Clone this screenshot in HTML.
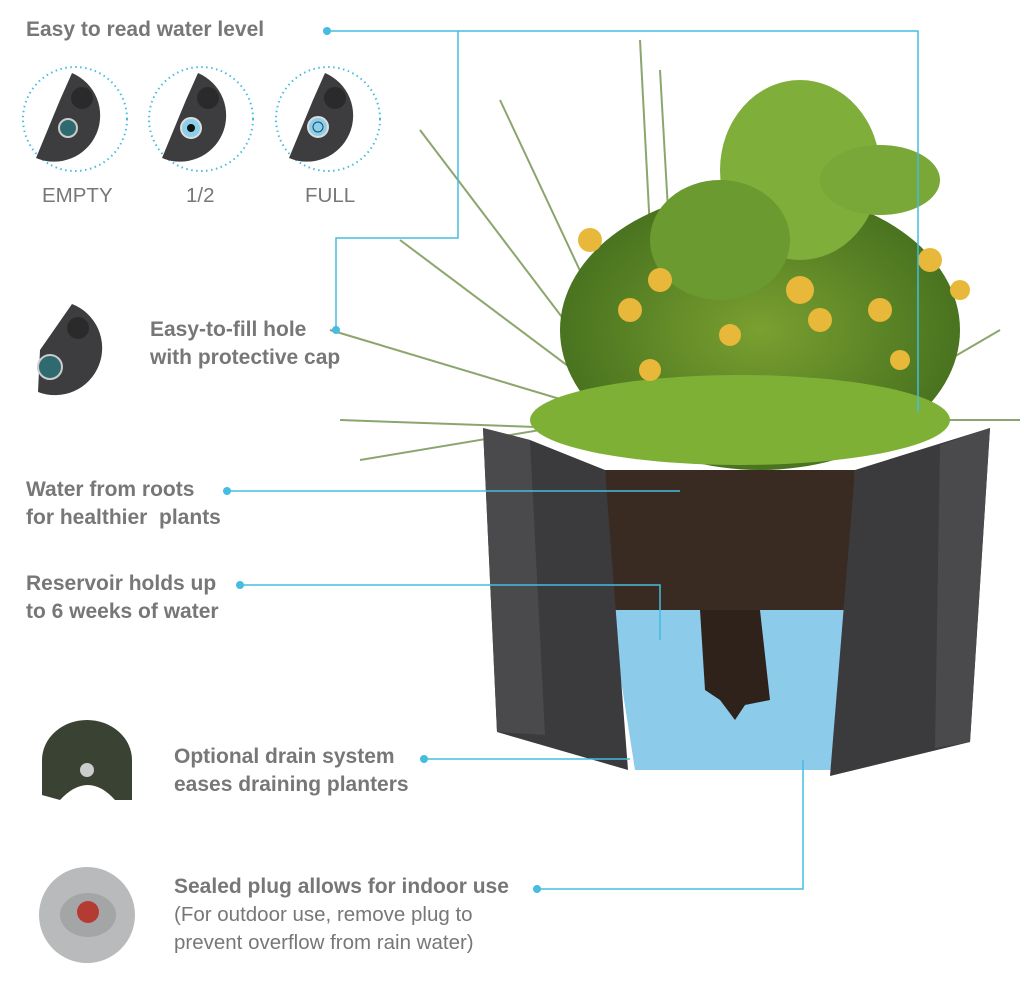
<!DOCTYPE html>
<html><head><meta charset="utf-8"><style>
html,body{margin:0;padding:0;background:#fff;}
body{width:1024px;height:983px;position:relative;overflow:hidden;font-family:"Liberation Sans",sans-serif;}
.t{position:absolute;color:#777;font-weight:bold;font-size:21px;line-height:28px;white-space:nowrap;}
.n{position:absolute;color:#777;font-size:20.5px;line-height:28px;white-space:nowrap;}
</style></head><body>
<svg width="1024" height="983" style="position:absolute;left:0;top:0">
<defs>
<radialGradient id="pl" cx="50%" cy="50%" r="60%"><stop offset="0" stop-color="#7aa030"/><stop offset="1" stop-color="#3f6a1c"/></radialGradient>
</defs>
<g stroke="#6f8f4a" stroke-width="2" fill="none" opacity="0.8">
<path d="M640 420 L420 130"/><path d="M650 420 L500 100"/><path d="M660 420 L640 40"/><path d="M680 420 L660 70"/><path d="M620 430 L340 420"/><path d="M630 420 L330 330"/><path d="M640 420 L400 240"/><path d="M880 420 L1020 420"/><path d="M880 400 L1000 330"/><path d="M600 420 L360 460"/>
</g>
<ellipse cx="760" cy="330" rx="200" ry="140" fill="url(#pl)"/>
<ellipse cx="800" cy="170" rx="80" ry="90" fill="#7fae3a"/>
<ellipse cx="720" cy="240" rx="70" ry="60" fill="#6a9a30"/>
<ellipse cx="880" cy="180" rx="60" ry="35" fill="#7aa838"/>
<ellipse cx="740" cy="420" rx="210" ry="45" fill="#7fb036"/>
<g fill="#e8b83a"><circle cx="590" cy="240" r="12"/><circle cx="660" cy="280" r="12"/><circle cx="630" cy="310" r="12"/><circle cx="800" cy="290" r="14"/><circle cx="820" cy="320" r="12"/><circle cx="880" cy="310" r="12"/><circle cx="930" cy="260" r="12"/><circle cx="650" cy="370" r="11"/><circle cx="730" cy="335" r="11"/><circle cx="900" cy="360" r="10"/><circle cx="960" cy="290" r="10"/></g>
<polygon points="605,470 855,470 850,620 610,620" fill="#3a2b22"/>
<polygon points="610,610 850,610 840,770 635,770" fill="#8ccbea"/>
<polygon points="700,610 760,610 770,700 745,705 735,720 720,700 705,690" fill="#2e221b"/>
<polygon points="483,428 530,440 605,470 628,770 497,732" fill="#3b3b3d"/>
<polygon points="483,428 530,440 545,735 497,732" fill="#4a4a4c"/>
<polygon points="855,470 990,428 970,742 830,776" fill="#3b3b3d"/>
<polygon points="940,445 990,428 970,742 935,748" fill="#4a4a4c"/>
<g stroke="#45bde0" stroke-width="1.5" fill="none">
<polyline points="327,31 918,31 918,412"/>
<polyline points="458,31 458,238 336,238 336,330"/>
<line x1="227" y1="491" x2="680" y2="491"/>
<polyline points="240,585 660,585 660,640"/>
<line x1="424" y1="759" x2="630" y2="759"/>
<polyline points="537,889 803,889 803,760"/>
</g>
<g fill="#45bde0"><circle cx="327" cy="31" r="4"/><circle cx="336" cy="330" r="4"/><circle cx="227" cy="491" r="4"/><circle cx="240" cy="585" r="4"/><circle cx="424" cy="759" r="4"/><circle cx="537" cy="889" r="4"/></g>
<g fill="none" stroke="#45bde0" stroke-width="2" stroke-dasharray="1.5 3.5">
<circle cx="75" cy="119" r="52"/><circle cx="201" cy="119" r="52"/><circle cx="328" cy="119" r="52"/>
</g>
<g fill="#3d3d3f">
<path d="M72 73 A45 45 0 1 1 36 158 L60 100 Z"/>
<path d="M198 73 A45 45 0 1 1 162 158 L186 100 Z"/>
<path d="M325 73 A45 45 0 1 1 289 158 L313 100 Z"/>
<path d="M72 304 A45 45 0 1 1 38 392 L40 350 Z"/>
</g>
<g fill="#2a2a2b"><circle cx="82" cy="98" r="11"/><circle cx="208" cy="98" r="11"/><circle cx="335" cy="98" r="11"/><circle cx="78" cy="328" r="11"/></g>
<circle cx="68" cy="128" r="9" fill="#2f6a70" stroke="#ccc" stroke-width="2"/>
<circle cx="191" cy="128" r="10" fill="#8ad0ea" stroke="#ddd" stroke-width="2"/><circle cx="191" cy="128" r="4" fill="#111"/>
<circle cx="318" cy="127" r="10" fill="#8ad0ea" stroke="#ddd" stroke-width="2"/><circle cx="318" cy="127" r="5" fill="none" stroke="#246" stroke-width="1"/>
<circle cx="50" cy="367" r="12" fill="#2f6a70" stroke="#ccc" stroke-width="2"/>
<path d="M42 795 L42 760 A45 40 0 0 1 132 760 L132 800 L115 800 Q88 770 60 800 Z" fill="#3a4233"/>
<circle cx="87" cy="770" r="7" fill="#ccc"/>
<circle cx="87" cy="915" r="48" fill="#b9babc"/>
<ellipse cx="88" cy="915" rx="28" ry="22" fill="#a4a5a7"/>
<circle cx="88" cy="912" r="11" fill="#b43a32"/>
</svg>
<div class="t" style="left:26px;top:16px">Easy to read water level</div>
<div class="n" style="left:42px;top:182px">EMPTY</div>
<div class="n" style="left:186px;top:182px">1/2</div>
<div class="n" style="left:305px;top:182px">FULL</div>
<div class="t" style="left:150px;top:316px">Easy-to-fill hole<br>with protective cap</div>
<div class="t" style="left:26px;top:476px">Water from roots<br>for healthier&nbsp; plants</div>
<div class="t" style="left:26px;top:570px">Reservoir holds up<br>to 6 weeks of water</div>
<div class="t" style="left:174px;top:743px">Optional drain system<br>eases draining planters</div>
<div class="t" style="left:174px;top:873px">Sealed plug allows for indoor use</div>
<div class="n" style="left:174px;top:901px">(For outdoor use, remove plug to<br>prevent overflow from rain water)</div>
</body></html>
